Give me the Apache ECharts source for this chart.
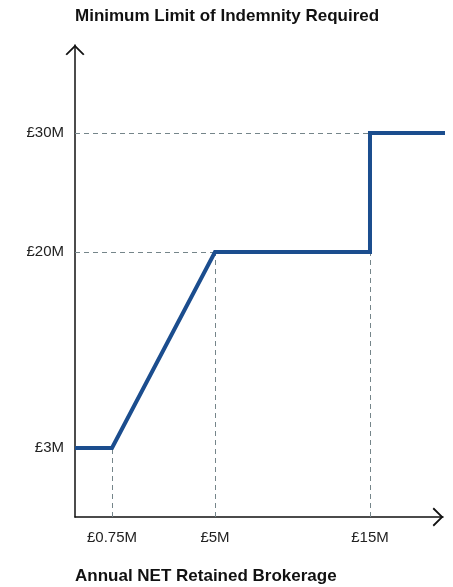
<!DOCTYPE html>
<html>
<head>
<meta charset="utf-8">
<script src="https://cdn.jsdelivr.net/npm/echarts@6/dist/echarts.min.js"></script>
<style>
  html, body { margin: 0; padding: 0; background: #fff; }
  #chart { width: 453px; height: 587px; }
</style>
</head>
<body>
<div id="chart"></div>
<script>
// ---- data ----
const titleText = 'Minimum Limit of Indemnity Required';
const xTitleText = 'Annual NET Retained Brokerage';
const xTicks = [0.75, 5, 15];
const xTickLabels = ['£0.75M', '£5M', '£15M'];
const yTicks = [3, 20, 30];
const yTickLabels = ['£3M', '£20M', '£30M'];
const brokerage = [0, 0.75, 5, 15, 15, 20];   // £M
const indemnity = [3, 3, 20, 20, 30, 30];     // £M

// ---- piecewise scales (the reference axes are not linear) ----
const xScaleDomain = [0, 0.75, 5, 15];
const xScaleRange = [0, 10.05, 38.04, 80.16];
const yScaleDomain = [3, 20, 30];
const yScaleRange = [14.62, 56.14, 81.36];
function piecewise(d, r, v) {
  let i = 0;
  while (i < d.length - 2 && v > d[i + 1]) i++;
  return r[i] + (v - d[i]) * (r[i + 1] - r[i]) / (d[i + 1] - d[i]);
}
const xMap = v => piecewise(xScaleDomain, xScaleRange, v);
const yMap = v => piecewise(yScaleDomain, yScaleRange, v);

const FONT = 'Liberation Sans, Arial, sans-serif';
const arrow = 'path://M0,10 L10,0 L20,10 L18.5,11.3 L10,2.7 L1.5,11.3 Z';

const lineData = brokerage.map((x, i) => [xMap(x), yMap(indemnity[i])]);

const guides = [];
yTicks.forEach(t => {
  const i = indemnity.indexOf(t);
  if (i >= 0 && brokerage[i] > 0) guides.push([{ coord: [0, yMap(t)] }, { coord: [xMap(brokerage[i]), yMap(t)] }]);
});
xTicks.forEach(t => {
  const i = brokerage.indexOf(t);
  if (i >= 0) guides.push([{ coord: [xMap(t), 0] }, { coord: [xMap(t), yMap(indemnity[i])] }]);
});

function labelFor(ticks, labels, map) {
  return v => { const i = ticks.findIndex(t => Math.abs(map(t) - v) < 1e-6); return i >= 0 ? labels[i] : ''; };
}

const chart = echarts.init(document.getElementById('chart'), null, { renderer: 'canvas' });
chart.setOption({
  animation: false,
  backgroundColor: '#ffffff',
  title: [
    { text: titleText, left: 75, top: 8, padding: 0, textStyle: { fontFamily: FONT, fontSize: 17, fontWeight: 'bold', color: '#111' } },
    { text: xTitleText, left: 75, top: 568, padding: 0, textStyle: { fontFamily: FONT, fontSize: 17, fontWeight: 'bold', color: '#111' } }
  ],
  grid: { left: 75, right: 10, top: 45, bottom: 70, containLabel: false, outerBoundsMode: 'none' },
  xAxis: {
    type: 'value', min: 0, max: 100,
    axisLine: { show: true, onZero: false, lineStyle: { color: '#111', width: 1.5 },
      symbol: ['none', arrow], symbolSize: [19, 11], symbolOffset: [0, -5] },
    axisTick: { show: false },
    splitLine: { show: false },
    axisLabel: {
      customValues: xTicks.map(xMap),
      formatter: labelFor(xTicks, xTickLabels, xMap),
      margin: 13, fontFamily: FONT, fontSize: 15, color: '#222'
    }
  },
  yAxis: {
    type: 'value', min: 0, max: 100,
    axisLine: { show: true, onZero: false, lineStyle: { color: '#111', width: 1.5 },
      symbol: ['none', arrow], symbolSize: [19, 11], symbolOffset: [0, -5] },
    axisTick: { show: false },
    splitLine: { show: false },
    axisLabel: {
      customValues: yTicks.map(yMap),
      formatter: labelFor(yTicks, yTickLabels, yMap),
      margin: 11, fontFamily: FONT, fontSize: 15, color: '#222'
    }
  },
  series: [{
    type: 'line',
    data: lineData,
    showSymbol: false,
    symbol: 'none',
    clip: true,
    z: 5,
    lineStyle: { color: '#1b4d8e', width: 4, join: 'miter' },
    markLine: {
      silent: true,
      symbol: ['none', 'none'],
      label: { show: false },
      z: 1,
      lineStyle: { color: '#75858a', width: 1, type: [5, 4] },
      data: guides
    }
  }]
});
</script>
</body>
</html>
